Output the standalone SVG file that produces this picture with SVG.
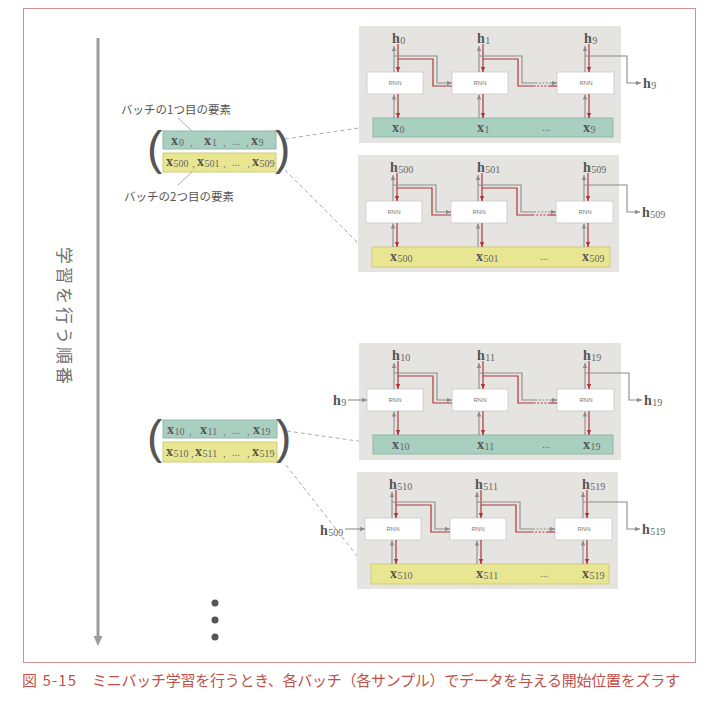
<svg xmlns="http://www.w3.org/2000/svg" width="714" height="702" viewBox="0 0 714 702">
<style>
.panel{fill:#e6e4e0}
.bart{fill:#a9cfc1;stroke:#8fb8a8;stroke-width:1}
.bary{fill:#e9e692;stroke:#cfcb7c;stroke-width:1}
.rnn{fill:#fff;stroke:#c9c9c9;stroke-width:0.8}
.rt{font-family:"Liberation Sans",Arial,sans-serif;font-size:6px;fill:#777;text-anchor:middle}
.g{stroke:#8c8c8c;stroke-width:1.1;fill:none}
.r{stroke:#b0353a;stroke-width:1.2;fill:none}
.gd{stroke:#8c8c8c;stroke-width:1.1;fill:none;stroke-dasharray:2 1.6}
.rd{stroke:#b0353a;stroke-width:1.2;fill:none;stroke-dasharray:2 1.6}
.hl{font-family:"Liberation Serif","Times New Roman",serif;font-weight:bold;font-size:14px;fill:#555}
.sub{font-weight:normal;font-size:10px;fill:#666}
.dots{font-family:"Liberation Sans",Arial,sans-serif;font-size:10px;fill:#666}
.cm{font-family:"Liberation Serif",serif;font-size:11px;fill:#777}
.jp{font-family:"Noto Sans CJK JP","Noto Sans",sans-serif;font-size:11.5px;fill:#555}
.par{font-family:"Liberation Sans",Arial,sans-serif;font-size:46px;fill:#555}
.dash{stroke:#ababab;stroke-width:1;stroke-dasharray:4 3;fill:none}
.lead{stroke:#a0a0a0;stroke-width:0.9;fill:none}
</style>
<defs>
<marker id="ag" viewBox="0 0 6 6" refX="6" refY="3" markerWidth="5" markerHeight="5" orient="auto" markerUnits="userSpaceOnUse"><path d="M0,0.4 L6,3 L0,5.6 z" fill="#8c8c8c"/></marker>
<marker id="ar" viewBox="0 0 6 6" refX="6" refY="3" markerWidth="5.5" markerHeight="5.5" orient="auto" markerUnits="userSpaceOnUse"><path d="M0,0.4 L6,3 L0,5.6 z" fill="#b0353a"/></marker>
</defs>

<rect x="23.5" y="8.5" width="672" height="654" fill="none" stroke="#d0938b" stroke-width="1"/>

<!-- vertical order arrow -->
<g id="order-arrow">
<line x1="98" y1="38" x2="98" y2="637" stroke="#9c9c9c" stroke-width="3"/>
<polygon points="93.5,636 102.5,636 98,646" fill="#9c9c9c"/>
<text transform="translate(58,247) rotate(90)" font-family="'Noto Sans CJK JP','Noto Sans',sans-serif" font-size="17" letter-spacing="3" fill="#707070">学習を行う順番</text>
</g>

<!-- batch 1 -->
<g id="batch1">
<text class="jp" x="121" y="114">バッチの1つ目の要素</text>
<line class="lead" x1="178" y1="118" x2="192" y2="131"/>
<rect class="bart" x="163" y="131" width="113" height="18"/>
<rect class="bary" x="163" y="153" width="113" height="19"/>
<line class="lead" x1="192" y1="172" x2="178" y2="185"/>
<text class="jp" x="124" y="201">バッチの2つ目の要素</text>
<text class="par" x="147" y="164">(</text>
<text class="par" x="275" y="164">)</text>
<text class="hl" x="171" y="145">x<tspan class="sub" dx="1" dy="1">0</tspan></text>
<text class="cm" x="190" y="146">,</text>
<text class="hl" x="204" y="145">x<tspan class="sub" dx="1" dy="1">1</tspan></text>
<text class="cm" x="223" y="146">,</text>
<text class="dots" x="232" y="145">...</text>
<text class="cm" x="246" y="146">,</text>
<text class="hl" x="251" y="145">x<tspan class="sub" dx="0.5" dy="1">9</tspan></text>
<text class="hl" x="166" y="166">x<tspan class="sub" dx="0.5" dy="1">500</tspan></text>
<text class="cm" x="192" y="167">,</text>
<text class="hl" x="197" y="166">x<tspan class="sub" dx="0.5" dy="1">501</tspan></text>
<text class="cm" x="223" y="167">,</text>
<text class="dots" x="232" y="166">...</text>
<text class="cm" x="247" y="167">,</text>
<text class="hl" x="252" y="166">x<tspan class="sub" dx="0.5" dy="1">509</tspan></text>
</g>

<!-- batch 2 -->
<g id="batch2">
<rect class="bart" x="163" y="420" width="114" height="18"/>
<rect class="bary" x="163" y="442" width="114" height="20"/>
<text class="par" x="147" y="453">(</text>
<text class="par" x="276" y="453">)</text>
<text class="hl" x="167" y="434">x<tspan class="sub" dx="0.5" dy="1">10</tspan></text>
<text class="cm" x="189" y="435">,</text>
<text class="hl" x="200" y="434">x<tspan class="sub" dx="0.5" dy="1">11</tspan></text>
<text class="cm" x="223" y="435">,</text>
<text class="dots" x="232" y="434">...</text>
<text class="cm" x="247" y="435">,</text>
<text class="hl" x="253" y="434">x<tspan class="sub" dx="0.5" dy="1">19</tspan></text>
<text class="hl" x="166" y="456">x<tspan class="sub" dx="0.5" dy="1">510</tspan></text>
<text class="cm" x="191" y="457">,</text>
<text class="hl" x="195" y="456">x<tspan class="sub" dx="0.5" dy="1">511</tspan></text>
<text class="cm" x="223" y="457">,</text>
<text class="dots" x="232" y="456">...</text>
<text class="cm" x="247" y="457">,</text>
<text class="hl" x="252" y="456">x<tspan class="sub" dx="0.5" dy="1">519</tspan></text>
</g>

<g id="dots">
<circle cx="215" cy="603" r="3.5" fill="#555"/>
<circle cx="215" cy="620" r="3.5" fill="#555"/>
<circle cx="215" cy="637" r="3.5" fill="#555"/>
</g>

<!-- dashed links batch -> panels -->
<g id="batch-links">
<line class="dash" x1="285" y1="139" x2="372" y2="126"/>
<line class="dash" x1="285" y1="170" x2="370" y2="255"/>
<line class="dash" x1="287" y1="431" x2="372" y2="443"/>
<line class="dash" x1="286" y1="465" x2="371" y2="574"/>
</g>

<!-- ===== panel 1 ===== -->
<g id="panel1">
<rect class="panel" x="359" y="26" width="262" height="117"/>
<rect class="bart" x="373" y="118" width="240" height="19"/>
<g id="p1-rnn1"><rect class="rnn" x="367" y="72" width="56" height="22"/><text class="rt" x="395" y="85">RNN</text></g>
<g id="p1-rnn2"><rect class="rnn" x="452" y="72" width="56" height="22"/><text class="rt" x="480" y="85">RNN</text></g>
<g id="p1-rnn3"><rect class="rnn" x="557" y="72" width="57" height="22"/><text class="rt" x="586" y="85">RNN</text></g>
<g id="p1-connectors">
<line class="g" x1="394" y1="118" x2="394" y2="94.5" marker-end="url(#ag)"/>
<line class="g" x1="479" y1="118" x2="479" y2="94.5" marker-end="url(#ag)"/>
<line class="g" x1="585" y1="118" x2="585" y2="94.5" marker-end="url(#ag)"/>
<line class="r" x1="398" y1="94" x2="398" y2="118" marker-end="url(#ar)"/>
<line class="r" x1="483" y1="94" x2="483" y2="118" marker-end="url(#ar)"/>
<line class="r" x1="589" y1="94" x2="589" y2="118" marker-end="url(#ar)"/>
<line class="g" x1="394" y1="72" x2="394" y2="46" marker-end="url(#ag)"/>
<line class="g" x1="479" y1="72" x2="479" y2="46" marker-end="url(#ag)"/>
<line class="g" x1="585" y1="72" x2="585" y2="46" marker-end="url(#ag)"/>
<line class="r" x1="398" y1="44" x2="398" y2="72" marker-end="url(#ar)"/>
<line class="r" x1="483" y1="44" x2="483" y2="72" marker-end="url(#ar)"/>
<line class="r" x1="589" y1="44" x2="589" y2="72" marker-end="url(#ar)"/>
<path class="g" d="M394,56 H437 V83 H452" marker-end="url(#ag)"/>
<path class="r" d="M452,86 H433 V59 H398"/>
<path class="g" d="M479,56 H522 V83 H535"/>
<line class="gd" x1="535" y1="83" x2="550" y2="83"/>
<line class="g" x1="550" y1="83" x2="557" y2="83" marker-end="url(#ag)"/>
<path class="r" d="M557,86 H550"/>
<line class="rd" x1="550" y1="86" x2="535" y2="86"/>
<path class="r" d="M535,86 H518 V59 H483"/>
<path class="g" d="M585,56 H627 V83 H641" marker-end="url(#ag)"/>
</g>
<text class="hl" x="392" y="43">h<tspan class="sub" dx="0.5" dy="1">0</tspan></text>
<text class="hl" x="477" y="43">h<tspan class="sub" dx="0.5" dy="1">1</tspan></text>
<text class="hl" x="584" y="43">h<tspan class="sub" dx="0.5" dy="1">9</tspan></text>
<text class="hl" x="643" y="88">h<tspan class="sub" dx="0.5" dy="1">9</tspan></text>
<text class="hl" x="392" y="132">x<tspan class="sub" dx="0.5" dy="1">0</tspan></text>
<text class="hl" x="477" y="132">x<tspan class="sub" dx="0.5" dy="1">1</tspan></text>
<text class="dots" x="542" y="131">...</text>
<text class="hl" x="583" y="132">x<tspan class="sub" dx="0.5" dy="1">9</tspan></text>
</g>

<!-- ===== panel 2 ===== -->
<g id="panel2" transform="translate(-1,129)">
<rect class="panel" x="359" y="26" width="261" height="117"/>
<rect class="bary" x="373" y="118" width="238" height="20"/>
<g id="p2-rnn1"><rect class="rnn" x="367" y="72" width="56" height="22"/><text class="rt" x="395" y="85">RNN</text></g>
<g id="p2-rnn2"><rect class="rnn" x="452" y="72" width="56" height="22"/><text class="rt" x="480" y="85">RNN</text></g>
<g id="p2-rnn3"><rect class="rnn" x="557" y="72" width="57" height="22"/><text class="rt" x="586" y="85">RNN</text></g>
<g id="p2-connectors">
<line class="g" x1="394" y1="118" x2="394" y2="94.5" marker-end="url(#ag)"/>
<line class="g" x1="479" y1="118" x2="479" y2="94.5" marker-end="url(#ag)"/>
<line class="g" x1="585" y1="118" x2="585" y2="94.5" marker-end="url(#ag)"/>
<line class="r" x1="398" y1="94" x2="398" y2="118" marker-end="url(#ar)"/>
<line class="r" x1="483" y1="94" x2="483" y2="118" marker-end="url(#ar)"/>
<line class="r" x1="589" y1="94" x2="589" y2="118" marker-end="url(#ar)"/>
<line class="g" x1="394" y1="72" x2="394" y2="46" marker-end="url(#ag)"/>
<line class="g" x1="479" y1="72" x2="479" y2="46" marker-end="url(#ag)"/>
<line class="g" x1="585" y1="72" x2="585" y2="46" marker-end="url(#ag)"/>
<line class="r" x1="398" y1="44" x2="398" y2="72" marker-end="url(#ar)"/>
<line class="r" x1="483" y1="44" x2="483" y2="72" marker-end="url(#ar)"/>
<line class="r" x1="589" y1="44" x2="589" y2="72" marker-end="url(#ar)"/>
<path class="g" d="M394,56 H437 V83 H452" marker-end="url(#ag)"/>
<path class="r" d="M452,86 H433 V59 H398"/>
<path class="g" d="M479,56 H522 V83 H535"/>
<line class="gd" x1="535" y1="83" x2="550" y2="83"/>
<line class="g" x1="550" y1="83" x2="557" y2="83" marker-end="url(#ag)"/>
<path class="r" d="M557,86 H550"/>
<line class="rd" x1="550" y1="86" x2="535" y2="86"/>
<path class="r" d="M535,86 H518 V59 H483"/>
<path class="g" d="M585,56 H628 V83 H641" marker-end="url(#ag)"/>
</g>
<text class="hl" x="391" y="43">h<tspan class="sub" dx="0.5" dy="1">500</tspan></text>
<text class="hl" x="478" y="43">h<tspan class="sub" dx="0.5" dy="1">501</tspan></text>
<text class="hl" x="584" y="43">h<tspan class="sub" dx="0.5" dy="1">509</tspan></text>
<text class="hl" x="643" y="88">h<tspan class="sub" dx="0.5" dy="1">509</tspan></text>
<text class="hl" x="391" y="132">x<tspan class="sub" dx="0.5" dy="1">500</tspan></text>
<text class="hl" x="477" y="132">x<tspan class="sub" dx="0.5" dy="1">501</tspan></text>
<text class="dots" x="541" y="131">...</text>
<text class="hl" x="583" y="132">x<tspan class="sub" dx="0.5" dy="1">509</tspan></text>
</g>

<!-- ===== panel 3 ===== -->
<g id="panel3" transform="translate(0,317)">
<rect class="panel" x="359" y="26" width="262" height="117"/>
<rect class="bart" x="373" y="118" width="240" height="19"/>
<g id="p3-rnn1"><rect class="rnn" x="367" y="72" width="56" height="22"/><text class="rt" x="395" y="85">RNN</text></g>
<g id="p3-rnn2"><rect class="rnn" x="452" y="72" width="56" height="22"/><text class="rt" x="480" y="85">RNN</text></g>
<g id="p3-rnn3"><rect class="rnn" x="557" y="72" width="57" height="22"/><text class="rt" x="586" y="85">RNN</text></g>
<g id="p3-connectors">
<line class="g" x1="394" y1="118" x2="394" y2="94.5" marker-end="url(#ag)"/>
<line class="g" x1="479" y1="118" x2="479" y2="94.5" marker-end="url(#ag)"/>
<line class="g" x1="585" y1="118" x2="585" y2="94.5" marker-end="url(#ag)"/>
<line class="r" x1="398" y1="94" x2="398" y2="118" marker-end="url(#ar)"/>
<line class="r" x1="483" y1="94" x2="483" y2="118" marker-end="url(#ar)"/>
<line class="r" x1="589" y1="94" x2="589" y2="118" marker-end="url(#ar)"/>
<line class="g" x1="394" y1="72" x2="394" y2="46" marker-end="url(#ag)"/>
<line class="g" x1="479" y1="72" x2="479" y2="46" marker-end="url(#ag)"/>
<line class="g" x1="585" y1="72" x2="585" y2="46" marker-end="url(#ag)"/>
<line class="r" x1="398" y1="44" x2="398" y2="72" marker-end="url(#ar)"/>
<line class="r" x1="483" y1="44" x2="483" y2="72" marker-end="url(#ar)"/>
<line class="r" x1="589" y1="44" x2="589" y2="72" marker-end="url(#ar)"/>
<path class="g" d="M394,56 H437 V83 H452" marker-end="url(#ag)"/>
<path class="r" d="M452,86 H433 V59 H398"/>
<path class="g" d="M479,56 H522 V83 H535"/>
<line class="gd" x1="535" y1="83" x2="550" y2="83"/>
<line class="g" x1="550" y1="83" x2="557" y2="83" marker-end="url(#ag)"/>
<path class="r" d="M557,86 H550"/>
<line class="rd" x1="550" y1="86" x2="535" y2="86"/>
<path class="r" d="M535,86 H518 V59 H483"/>
<path class="g" d="M585,56 H629 V83 H642" marker-end="url(#ag)"/>
<line class="g" x1="348" y1="83" x2="367" y2="83" marker-end="url(#ag)"/>
</g>
<text class="hl" x="392" y="43">h<tspan class="sub" dx="0.5" dy="1">10</tspan></text>
<text class="hl" x="477" y="43">h<tspan class="sub" dx="0.5" dy="1">11</tspan></text>
<text class="hl" x="583" y="43">h<tspan class="sub" dx="0.5" dy="1">19</tspan></text>
<text class="hl" x="644" y="88">h<tspan class="sub" dx="0.5" dy="1">19</tspan></text>
<text class="hl" x="333" y="88">h<tspan class="sub" dx="0.5" dy="1">9</tspan></text>
<text class="hl" x="392" y="132">x<tspan class="sub" dx="0.5" dy="1">10</tspan></text>
<text class="hl" x="477" y="132">x<tspan class="sub" dx="0.5" dy="1">11</tspan></text>
<text class="dots" x="542" y="131">...</text>
<text class="hl" x="583" y="132">x<tspan class="sub" dx="0.5" dy="1">19</tspan></text>
</g>

<!-- ===== panel 4 ===== -->
<g id="panel4" transform="translate(-2,446)">
<rect class="panel" x="359" y="26" width="261" height="117"/>
<rect class="bary" x="373" y="118" width="238" height="20"/>
<g id="p4-rnn1"><rect class="rnn" x="367" y="72" width="56" height="22"/><text class="rt" x="395" y="85">RNN</text></g>
<g id="p4-rnn2"><rect class="rnn" x="452" y="72" width="56" height="22"/><text class="rt" x="480" y="85">RNN</text></g>
<g id="p4-rnn3"><rect class="rnn" x="557" y="72" width="57" height="22"/><text class="rt" x="586" y="85">RNN</text></g>
<g id="p4-connectors">
<line class="g" x1="394" y1="118" x2="394" y2="94.5" marker-end="url(#ag)"/>
<line class="g" x1="479" y1="118" x2="479" y2="94.5" marker-end="url(#ag)"/>
<line class="g" x1="585" y1="118" x2="585" y2="94.5" marker-end="url(#ag)"/>
<line class="r" x1="398" y1="94" x2="398" y2="118" marker-end="url(#ar)"/>
<line class="r" x1="483" y1="94" x2="483" y2="118" marker-end="url(#ar)"/>
<line class="r" x1="589" y1="94" x2="589" y2="118" marker-end="url(#ar)"/>
<line class="g" x1="394" y1="72" x2="394" y2="46" marker-end="url(#ag)"/>
<line class="g" x1="479" y1="72" x2="479" y2="46" marker-end="url(#ag)"/>
<line class="g" x1="585" y1="72" x2="585" y2="46" marker-end="url(#ag)"/>
<line class="r" x1="398" y1="44" x2="398" y2="72" marker-end="url(#ar)"/>
<line class="r" x1="483" y1="44" x2="483" y2="72" marker-end="url(#ar)"/>
<line class="r" x1="589" y1="44" x2="589" y2="72" marker-end="url(#ar)"/>
<path class="g" d="M394,56 H437 V83 H452" marker-end="url(#ag)"/>
<path class="r" d="M452,86 H433 V59 H398"/>
<path class="g" d="M479,56 H522 V83 H535"/>
<line class="gd" x1="535" y1="83" x2="550" y2="83"/>
<line class="g" x1="550" y1="83" x2="557" y2="83" marker-end="url(#ag)"/>
<path class="r" d="M557,86 H550"/>
<line class="rd" x1="550" y1="86" x2="535" y2="86"/>
<path class="r" d="M535,86 H518 V59 H483"/>
<path class="g" d="M585,56 H629 V83 H642" marker-end="url(#ag)"/>
<line class="g" x1="347" y1="83" x2="367" y2="83" marker-end="url(#ag)"/>
</g>
<text class="hl" x="391" y="43">h<tspan class="sub" dx="0.5" dy="1">510</tspan></text>
<text class="hl" x="477" y="43">h<tspan class="sub" dx="0.5" dy="1">511</tspan></text>
<text class="hl" x="584" y="43">h<tspan class="sub" dx="0.5" dy="1">519</tspan></text>
<text class="hl" x="644" y="88">h<tspan class="sub" dx="0.5" dy="1">519</tspan></text>
<text class="hl" x="322" y="89">h<tspan class="sub" dx="0.5" dy="1">509</tspan></text>
<text class="hl" x="392" y="132">x<tspan class="sub" dx="0.5" dy="1">510</tspan></text>
<text class="hl" x="478" y="132">x<tspan class="sub" dx="0.5" dy="1">511</tspan></text>
<text class="dots" x="542" y="131">...</text>
<text class="hl" x="584" y="132">x<tspan class="sub" dx="0.5" dy="1">519</tspan></text>
</g>

<!-- caption -->
<g id="caption" font-family="'Noto Sans CJK JP','Noto Sans',sans-serif" font-size="15" fill="#c0504a">
<text x="22" y="686" textLength="54" lengthAdjust="spacing">図 5-15</text>
<text x="92" y="686" textLength="588" lengthAdjust="spacing">ミニバッチ学習を行うとき、各バッチ（各サンプル）でデータを与える開始位置をズラす</text>
</g>
</svg>
